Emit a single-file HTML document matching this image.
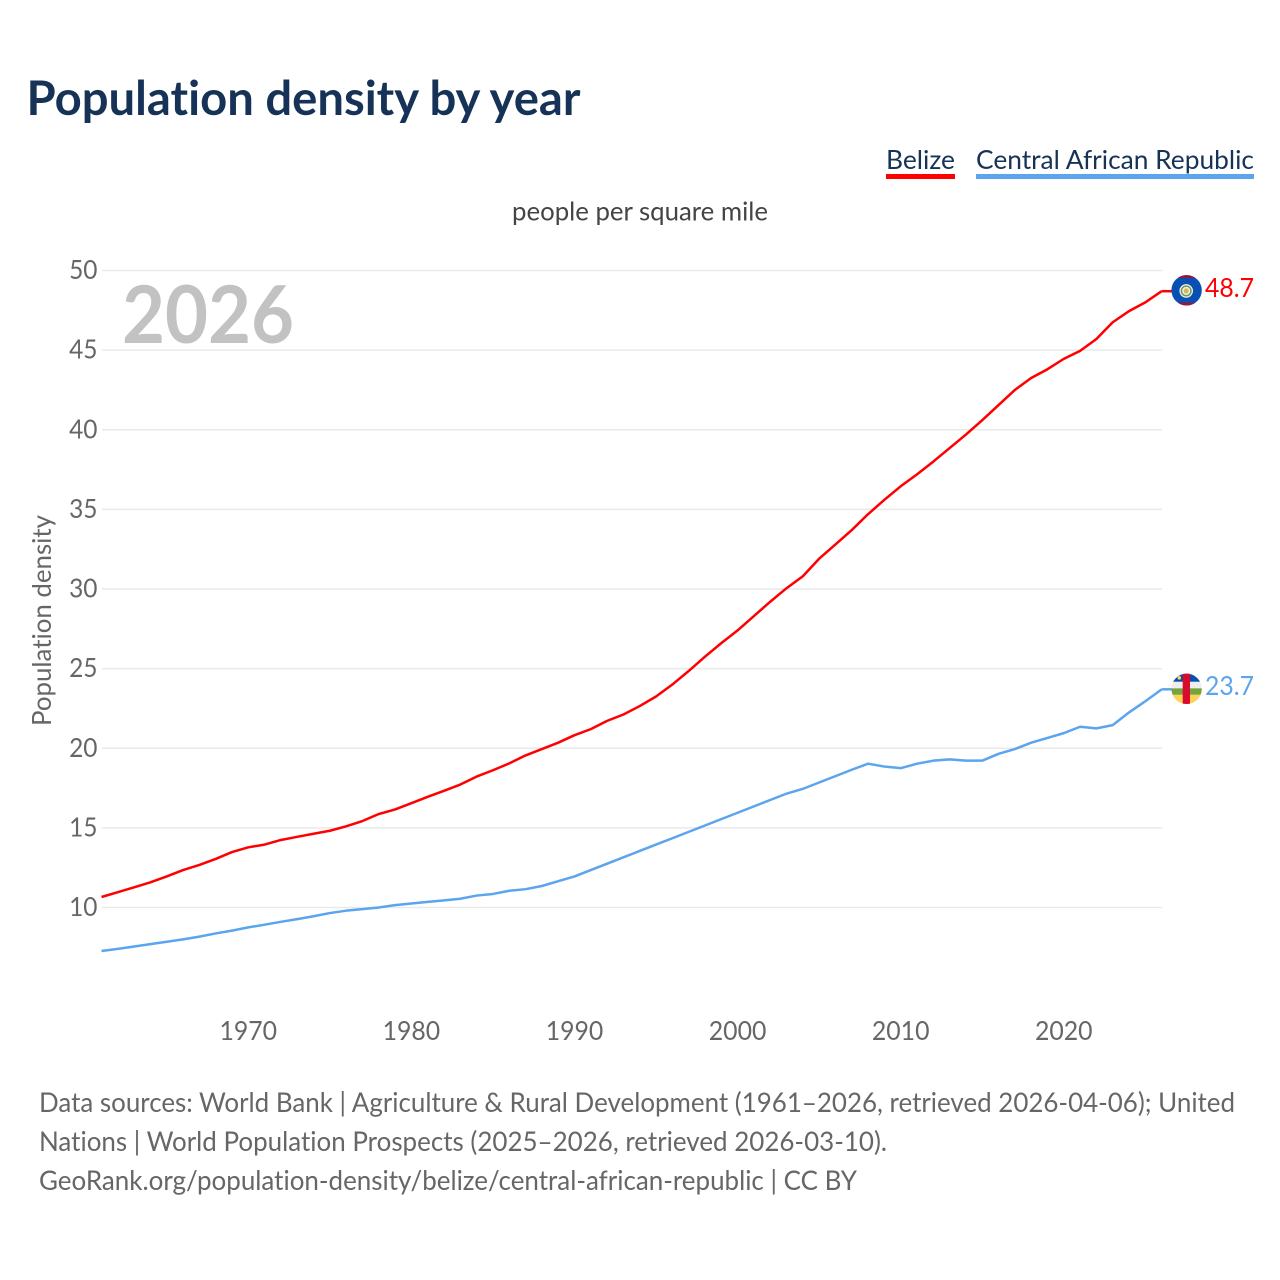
<!DOCTYPE html>
<html lang="en">
<head>
<meta charset="utf-8">
<title>Population density by year</title>
<style>
html,body{margin:0;padding:0;background:#fff;}
svg{display:block;}
text{font-family:"Lato","Carlito","Liberation Sans",sans-serif;font-variant-ligatures:none;}
</style>
</head>
<body>
<svg id="chart" width="1280" height="1280" viewBox="0 0 1280 1280" xmlns="http://www.w3.org/2000/svg">
  <defs>
    <clipPath id="clip-belize"><circle id="clip-belize-circle" cx="1186.6" cy="290" r="15.2"></circle></clipPath>
    <clipPath id="clip-car"><circle id="clip-car-circle" cx="1186.6" cy="689" r="15.2"></circle></clipPath>
  </defs>
  <rect width="1280" height="1280" fill="#fff"></rect>

  <text x="26.5" y="115" font-size="48" font-weight="700" fill="#163357" textLength="554" lengthAdjust="spacingAndGlyphs">Population density by year</text>

  <g>
    <g>
      <text x="886" y="169" font-size="26" fill="#163357" textLength="69" lengthAdjust="spacingAndGlyphs">Belize</text>
      <rect x="886" y="174" width="69" height="5" fill="#ff0000"></rect>
    </g>
    <g>
      <text x="976" y="169" font-size="26" fill="#163357" textLength="278" lengthAdjust="spacingAndGlyphs">Central African Republic</text>
      <rect x="976" y="174" width="278" height="5" fill="#5ba4ee"></rect>
    </g>
  </g>

  <text x="512" y="220.5" font-size="26" fill="#444" textLength="256" lengthAdjust="spacingAndGlyphs">people per square mile</text>

  <g id="grid"></g>
  <g id="y-ticks"></g>
  <g id="x-ticks"></g>

  <text transform="translate(51,726) rotate(-90)" x="0" y="0" font-size="26" fill="#666" textLength="211" lengthAdjust="spacingAndGlyphs">Population density</text>

  <text x="122" y="343" font-size="80" font-weight="700" fill="#c2c2c2" textLength="172" lengthAdjust="spacingAndGlyphs">2026</text>

  <g id="series"></g>

  <g id="flag-belize" clip-path="url(#clip-belize)"></g>
  <g id="flag-car" clip-path="url(#clip-car)"></g>

  <g id="end-labels"></g>

  <g>
    <text x="39" y="1112" font-size="27" fill="#666" textLength="1196" lengthAdjust="spacingAndGlyphs">Data sources: World Bank | Agriculture &amp; Rural Development (1961–2026, retrieved 2026-04-06); United</text>
    <text x="39" y="1151" font-size="27" fill="#666" textLength="848" lengthAdjust="spacingAndGlyphs">Nations | World Population Prospects (2025–2026, retrieved 2026-03-10).</text>
    <text x="39" y="1190" font-size="27" fill="#666" textLength="818" lengthAdjust="spacingAndGlyphs">GeoRank.org/population-density/belize/central-african-republic | CC BY</text>
  </g>
</svg>

<script>
var startYear = 1961;
var yTickValues = [10, 15, 20, 25, 30, 35, 40, 45, 50];
var xTickValues = [1970, 1980, 1990, 2000, 2010, 2020];
var belizeValues = [
  10.66, 10.96, 11.27, 11.58, 11.95, 12.35, 12.67, 13.05, 13.48, 13.78,
  13.95, 14.24, 14.44, 14.63, 14.82, 15.1, 15.43, 15.87, 16.16, 16.55,
  16.95, 17.33, 17.72, 18.22, 18.62, 19.05, 19.55, 19.95, 20.35, 20.82,
  21.2, 21.72, 22.12, 22.65, 23.25, 24.0, 24.85, 25.75, 26.6, 27.4,
  28.3, 29.2, 30.05, 30.8, 31.9, 32.8, 33.7, 34.7, 35.6, 36.45,
  37.2, 38.0, 38.85, 39.7, 40.6, 41.55, 42.5, 43.25, 43.8, 44.45,
  44.95, 45.7, 46.75, 47.45, 48.0, 48.7
];
var carValues = [
  7.27, 7.4, 7.55, 7.7, 7.85, 8.0, 8.17, 8.37, 8.55, 8.75,
  8.92, 9.1, 9.27, 9.45, 9.65, 9.8, 9.9, 10.0, 10.15, 10.25,
  10.35, 10.45, 10.55, 10.75, 10.85, 11.05, 11.15, 11.35, 11.65, 11.95,
  12.35, 12.75, 13.15, 13.55, 13.95, 14.35, 14.75, 15.15, 15.55, 15.95,
  16.35, 16.75, 17.15, 17.45, 17.85, 18.25, 18.65, 19.03, 18.85, 18.75,
  19.03, 19.22, 19.3, 19.22, 19.22, 19.65, 19.95, 20.35, 20.65, 20.95,
  21.35, 21.25, 21.45, 22.25, 22.95, 23.7
];

var NS = 'http://www.w3.org/2000/svg';
function xScale(year) { return 101.5 + (year - 1961) * 16.31; }
function yScale(v) { return 907.5 - (v - 10) * 15.925; }
function make(tag, attrs, parent) {
  var el = document.createElementNS(NS, tag);
  for (var k in attrs) { el.setAttribute(k, attrs[k]); }
  parent.appendChild(el);
  return el;
}

var grid = document.getElementById('grid');
var yTicks = document.getElementById('y-ticks');
yTickValues.forEach(function (v) {
  var line = make('line', { x1: 102, x2: 1162, y1: yScale(v), y2: yScale(v), stroke: '#e9e9e9', 'stroke-width': 1.5 }, grid);
  
  
  var label = make('text', { x: 97.5, y: yScale(v) + 8.5, 'text-anchor': 'end', 'font-size': 26, fill: '#666', textLength: String(v).length * 14.2, lengthAdjust: 'spacingAndGlyphs' }, yTicks);
  
  
  label.textContent = v;
});

var xTicks = document.getElementById('x-ticks');
xTickValues.forEach(function (year) {
  var label = make('text', { x: xScale(year), y: 1040, 'text-anchor': 'middle', 'font-size': 26, fill: '#666', textLength: String(year).length * 14.4, lengthAdjust: 'spacingAndGlyphs' }, xTicks);
  
  
  label.textContent = year;
});

function drawSeries(values, color, lineName, connectorName) {
  var group = document.getElementById('series');
  var pts = values.map(function (v, i) {
    return xScale(startYear + i).toFixed(2) + ',' + yScale(v).toFixed(2);
  }).join(' ');
  var line = make('polyline', { points: pts, fill: 'none', stroke: color, 'stroke-width': 2.5, 'stroke-linejoin': 'round' }, group);
  
  
  var last = values[values.length - 1];
  var lastX = xScale(startYear + values.length - 1);
  var conn = make('line', { x1: lastX, x2: lastX + 10, y1: yScale(last), y2: yScale(last), stroke: color, 'stroke-width': 2.5 }, group);
  
  
}
drawSeries(belizeValues, '#ff0000', 'belize-line', 'belize-connector');
drawSeries(carValues, '#5ba4ee', 'central-african-republic-line', 'central-african-republic-connector');

var endLabels = document.getElementById('end-labels');
function drawEndLabel(values, color, name, dy) {
  var last = values[values.length - 1];
  var label = make('text', { x: 1205, y: yScale(last) + dy, 'font-size': 26, fill: color, textLength: 49, lengthAdjust: 'spacingAndGlyphs' }, endLabels);
  
  
  label.textContent = last.toFixed(1);
}
drawEndLabel(belizeValues, '#ff0000', 'belize-end-value', 6);
drawEndLabel(carValues, '#5ba4ee', 'central-african-republic-end-value', 5.5);

/* Flags follow the last value of each series */
var flagX = 1186.6;
var by = yScale(belizeValues[belizeValues.length - 1]) - 0.9;
var cy = yScale(carValues[carValues.length - 1]) - 0.5;
document.getElementById('clip-belize-circle').setAttribute('cy', by);
document.getElementById('clip-car-circle').setAttribute('cy', cy);

var fb = document.getElementById('flag-belize');
make('rect', { x: 1170, y: by - 16, width: 34, height: 32, fill: '#0a4fb3' }, fb);
make('rect', { x: 1170, y: by - 16, width: 34, height: 3.5, fill: '#a3122f' }, fb);
make('rect', { x: 1170, y: by + 12.5, width: 34, height: 3.5, fill: '#a3122f' }, fb);
make('circle', { cx: flagX - 0.4, cy: by + 0.6, r: 6.8, fill: '#f2f2ea' }, fb);
make('circle', { cx: flagX - 0.4, cy: by + 0.6, r: 4.8, fill: 'none', stroke: '#6d9a5a', 'stroke-width': 1.5 }, fb);
make('circle', { cx: flagX - 0.4, cy: by + 0.6, r: 2.6, fill: '#d9b65a' }, fb);

var fc = document.getElementById('flag-car');
make('rect', { x: 1170, y: cy - 16, width: 34, height: 9, fill: '#0b4fa8' }, fc);
make('rect', { x: 1170, y: cy - 7, width: 34, height: 6.5, fill: '#eeeeee' }, fc);
make('rect', { x: 1170, y: cy - 0.5, width: 34, height: 6.5, fill: '#75a33e' }, fc);
make('rect', { x: 1170, y: cy + 6, width: 34, height: 10, fill: '#fdd255' }, fc);
make('rect', { x: 1182.7, y: cy - 16, width: 7.3, height: 32, fill: '#d80b2d' }, fc);
make('circle', { cx: 1179.3, cy: cy - 11, r: 1.8, fill: '#fdd255' }, fc);
</script>
</body>
</html>
